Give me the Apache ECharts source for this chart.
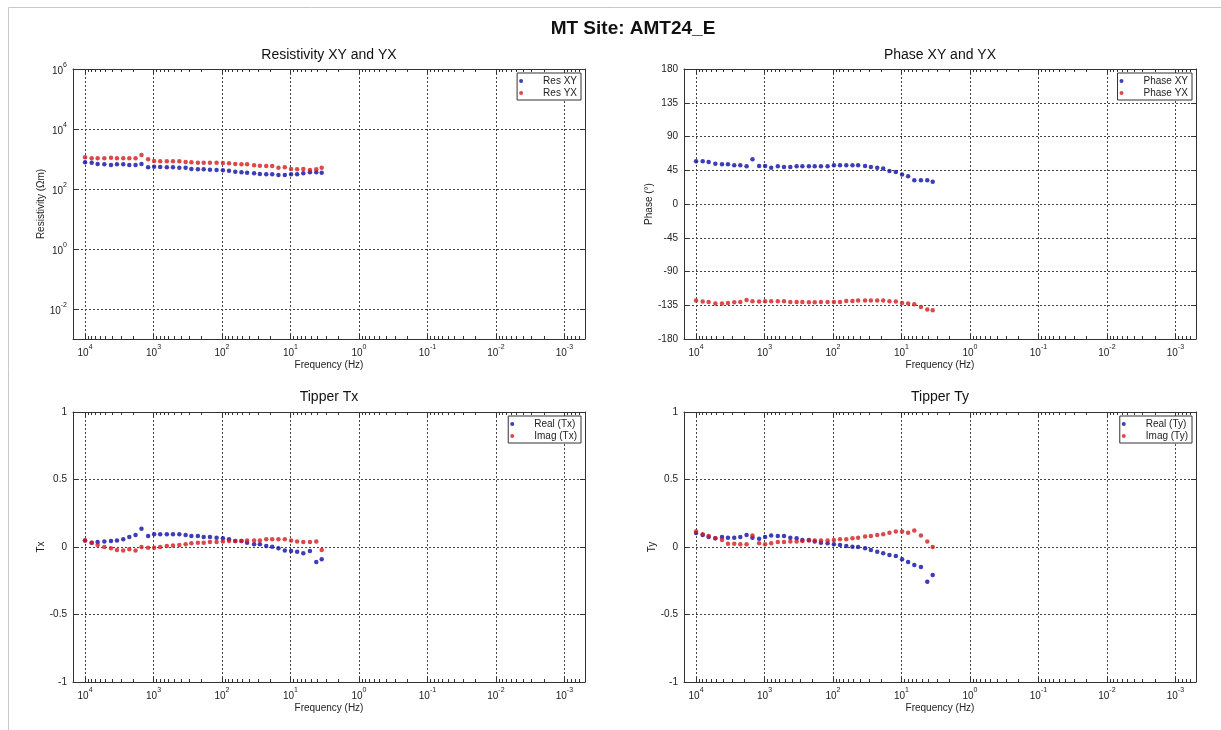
<!DOCTYPE html>
<html><head><meta charset="utf-8">
<script src="https://cdn.jsdelivr.net/npm/echarts@6/dist/echarts.min.js"></script>
<style>html,body{margin:0;padding:0;background:#fff}#c{width:1221px;height:730px}</style>
</head><body><div id="c"></div>
<script>
// ---------- data ----------
const freq = [10000, 8000, 6550, 5230, 4180, 3420, 2770, 2260, 1830, 1500, 1200, 980, 800, 640, 520, 420, 340, 280, 225, 185, 150, 120, 97, 79, 64, 52, 43, 34, 28, 22.6, 18.5, 15, 12.1, 9.8, 8, 6.5, 5.2, 4.2, 3.5];
const resXY = [774, 755, 681, 664, 631, 664, 664, 631, 631, 681, 527, 555, 541, 527, 527, 514, 514, 464, 453, 453, 441, 430, 419, 408, 378, 359, 350, 333, 316, 308, 308, 293, 293, 308, 308, 333, 359, 359, 350];
const resYX = [1136, 1052, 1052, 1052, 1108, 1052, 1052, 1052, 1052, 1359, 975, 858, 836, 836, 836, 836, 794, 774, 755, 755, 755, 755, 736, 717, 681, 664, 664, 615, 599, 584, 584, 514, 527, 464, 453, 464, 430, 453, 514];
const phaseXY = [56.9, 56.9, 56.0, 53.8, 52.9, 52.9, 51.6, 51.6, 50.3, 59.6, 50.7, 50.7, 48.5, 50.3, 49.4, 49.4, 50.3, 50.3, 50.3, 50.3, 50.3, 50.3, 51.6, 51.6, 51.6, 51.6, 51.6, 50.7, 49.4, 48.5, 47.2, 44.1, 42.8, 39.3, 37.1, 31.8, 31.8, 31.8, 29.6];
const phaseYX = [-128.8, -130.1, -130.5, -132.8, -132.8, -131.9, -131.0, -130.5, -127.9, -129.7, -130.1, -129.7, -129.7, -129.7, -129.7, -130.5, -130.5, -130.5, -131.0, -131.0, -130.5, -130.5, -130.5, -130.5, -129.2, -129.2, -128.8, -128.8, -128.8, -128.8, -128.8, -129.7, -130.1, -131.9, -132.8, -133.7, -137.2, -140.8, -141.7];
const txReal = [0.049, 0.032, 0.037, 0.040, 0.044, 0.049, 0.057, 0.074, 0.089, 0.136, 0.081, 0.094, 0.094, 0.094, 0.094, 0.094, 0.089, 0.081, 0.081, 0.074, 0.074, 0.069, 0.064, 0.057, 0.044, 0.044, 0.032, 0.020, 0.020, 0.007, 0.002, -0.010, -0.025, -0.030, -0.035, -0.047, -0.030, -0.111, -0.091];
const txImag = [0.049, 0.032, 0.015, 0, -0.010, -0.022, -0.025, -0.017, -0.025, 0, -0.005, -0.005, 0, 0.007, 0.012, 0.015, 0.020, 0.027, 0.032, 0.032, 0.037, 0.037, 0.040, 0.044, 0.044, 0.044, 0.049, 0.049, 0.049, 0.057, 0.057, 0.057, 0.057, 0.049, 0.040, 0.037, 0.037, 0.040, -0.022];
const tyReal = [0.104, 0.089, 0.074, 0.064, 0.074, 0.069, 0.069, 0.074, 0.089, 0.069, 0.062, 0.074, 0.086, 0.081, 0.081, 0.069, 0.064, 0.052, 0.052, 0.040, 0.032, 0.027, 0.020, 0.015, 0.007, 0.002, 0, -0.010, -0.022, -0.035, -0.047, -0.059, -0.067, -0.091, -0.111, -0.133, -0.148, -0.257, -0.207];
const tyImag = [0.114, 0.094, 0.081, 0.064, 0.052, 0.025, 0.025, 0.020, 0.020, 0.086, 0.027, 0.020, 0.027, 0.037, 0.037, 0.040, 0.040, 0.044, 0.049, 0.049, 0.049, 0.049, 0.052, 0.057, 0.057, 0.064, 0.069, 0.077, 0.081, 0.089, 0.094, 0.106, 0.114, 0.114, 0.106, 0.123, 0.086, 0.040, 0.000];

const xMajorTicks = [1e4, 1e3, 1e2, 1e1, 1, 1e-1, 1e-2, 1e-3];
const resTicks = [1e-2, 1, 1e2, 1e4, 1e6];
const X_MIN = 5e-4, X_MAX = 1.5e4;

// minor tick positions (2..9 x each decade) inside the axis range
const xMinorTicks = [];
for (let e = -4; e <= 4; e++) {
  for (let k = 2; k <= 9; k++) {
    const v = +(k * Math.pow(10, e)).toPrecision(3);
    if (v >= X_MIN && v <= X_MAX) xMinorTicks.push(v);
  }
}

// ---------- styling ----------
const FONT = 'Liberation Sans, Arial, sans-serif';
const TXT = '#222';
const AX = '#333';
const BLUE = '#0c0ca6';
const RED = '#d41c1c';

const powFmt = v => '{b|10}{s|' + Math.round(Math.log10(v)) + '}';
const powRich = {
  b: {fontSize: 10, color: TXT, fontFamily: FONT, lineHeight: 14, verticalAlign: 'bottom'},
  s: {fontSize: 7, color: TXT, fontFamily: FONT, lineHeight: 8, verticalAlign: 'top'}
};

const GW = 512, GH = 270;
const grids = [
  {left: 73, top: 69, width: GW, height: GH},
  {left: 684, top: 69, width: GW, height: GH},
  {left: 73, top: 412, width: GW, height: GH},
  {left: 684, top: 412, width: GW, height: GH}
];

function xAxesFor(g) {
  const base = {type: 'log', logBase: 10, gridIndex: g, min: X_MIN, max: X_MAX, inverse: true};
  const line = {show: true, onZero: false, lineStyle: {color: AX, width: 1}};
  const noLine = {show: false, onZero: false};
  const tick = (vals, len) => ({show: true, inside: true, length: len, customValues: vals, lineStyle: {color: AX}});
  return [
    Object.assign({}, base, {
      position: 'bottom',
      name: 'Frequency (Hz)', nameLocation: 'middle', nameGap: 21,
      nameTextStyle: {fontSize: 10, color: TXT, fontFamily: FONT},
      axisLine: line, axisTick: tick(xMajorTicks, 5),
      axisLabel: {show: true, customValues: xMajorTicks, formatter: powFmt, rich: powRich, margin: 5},
      splitLine: {show: true, lineStyle: {type: [2, 2], color: '#444', width: 1}}
    }),
    Object.assign({}, base, {
      position: 'bottom', axisLine: noLine, axisTick: tick(xMinorTicks, 3),
      axisLabel: {show: false}, splitLine: {show: false}
    }),
    Object.assign({}, base, {
      position: 'top', axisLine: line, axisTick: tick(xMajorTicks, 5),
      axisLabel: {show: false}, splitLine: {show: false}
    }),
    Object.assign({}, base, {
      position: 'top', axisLine: noLine, axisTick: tick(xMinorTicks, 3),
      axisLabel: {show: false}, splitLine: {show: false}
    })
  ];
}

function yAxesFor(g, kind, name, gap) {
  let base;
  if (kind === 'res') base = {type: 'log', logBase: 10, min: 1e-3, max: 1e6};
  else if (kind === 'phase') base = {type: 'value', min: -180, max: 180, interval: 45};
  else base = {type: 'value', min: -1, max: 1, interval: 0.5};
  base.gridIndex = g;
  const tickBase = {show: true, inside: true, length: 5, lineStyle: {color: AX}};
  if (kind === 'res') tickBase.customValues = resTicks;
  const label = {show: true, fontSize: 10, color: TXT, fontFamily: FONT, margin: 6};
  if (kind === 'res') { label.customValues = resTicks; label.formatter = powFmt; label.rich = powRich; }
  return [
    Object.assign({}, base, {
      position: 'left', name: name, nameLocation: 'middle', nameGap: gap,
      nameTextStyle: {fontSize: 10, color: TXT, fontFamily: FONT},
      axisLine: {show: true, onZero: false, lineStyle: {color: AX}},
      axisTick: tickBase, axisLabel: label,
      splitLine: {show: true, lineStyle: {type: [2, 2], color: '#444', width: 1}}
    }),
    Object.assign({}, base, {
      position: 'right',
      axisLine: {show: true, onZero: false, lineStyle: {color: AX}},
      axisTick: tickBase, axisLabel: {show: false}, splitLine: {show: false}
    })
  ];
}

const xAxis = [].concat(xAxesFor(0), xAxesFor(1), xAxesFor(2), xAxesFor(3));
const yAxis = [].concat(
  yAxesFor(0, 'res', 'Resistivity (\u03A9m)', 19),
  yAxesFor(1, 'phase', 'Phase (\u00B0)', 24),
  yAxesFor(2, 'tip', 'Tx', 20),
  yAxesFor(3, 'tip', 'Ty', 24)
);

function sc(name, g, vals, color) {
  return {
    name: name, type: 'scatter', xAxisIndex: g * 4, yAxisIndex: g * 2,
    data: freq.map((f, i) => [f, vals[i]]),
    symbol: 'circle', symbolSize: 4.5,
    itemStyle: {color: color},
    emphasis: {disabled: true}, silent: true
  };
}

const series = [
  sc('Res XY', 0, resXY, BLUE), sc('Res YX', 0, resYX, RED),
  sc('Phase XY', 1, phaseXY, BLUE), sc('Phase YX', 1, phaseYX, RED),
  sc('Real (Tx)', 2, txReal, BLUE), sc('Imag (Tx)', 2, txImag, RED),
  sc('Real (Ty)', 3, tyReal, BLUE), sc('Imag (Ty)', 3, tyImag, RED)
];

function legendFor(g, names) {
  const gr = grids[g];
  return {
    data: names, orient: 'vertical', selectedMode: false,
    right: 1221 - (gr.left + gr.width) + 4, top: gr.top + 4,
    icon: 'circle', itemWidth: 34, itemHeight: 4, itemGap: 2,
    padding: [3, 4, 2, 2],
    borderColor: AX, borderWidth: 1, backgroundColor: '#fff',
    textStyle: {fontSize: 10, color: TXT, fontFamily: FONT}
  };
}

const titleStyle = {fontSize: 14, fontWeight: 'normal', color: '#111', fontFamily: FONT};
const option = {
  animation: false,
  backgroundColor: '#fff',
  title: [
    {text: 'MT Site: AMT24_E', left: 633, top: 19, textAlign: 'center', padding: 0,
     textStyle: {fontSize: 19, fontWeight: 'bold', color: '#111', fontFamily: FONT}},
    {text: 'Resistivity XY and YX', left: grids[0].left + GW / 2, top: 48, textAlign: 'center', padding: 0, textStyle: titleStyle},
    {text: 'Phase XY and YX', left: grids[1].left + GW / 2, top: 48, textAlign: 'center', padding: 0, textStyle: titleStyle},
    {text: 'Tipper Tx', left: grids[2].left + GW / 2, top: 390, textAlign: 'center', padding: 0, textStyle: titleStyle},
    {text: 'Tipper Ty', left: grids[3].left + GW / 2, top: 390, textAlign: 'center', padding: 0, textStyle: titleStyle}
  ],
  legend: [
    legendFor(0, ['Res XY', 'Res YX']),
    legendFor(1, ['Phase XY', 'Phase YX']),
    legendFor(2, ['Real (Tx)', 'Imag (Tx)']),
    legendFor(3, ['Real (Ty)', 'Imag (Ty)'])
  ],
  grid: grids,
  xAxis: xAxis,
  yAxis: yAxis,
  series: series,
  graphic: [
    {type: 'line', silent: true, shape: {x1: 8.5, y1: 7.5, x2: 1221, y2: 7.5}, style: {stroke: '#c8c8c8', lineWidth: 1}},
    {type: 'line', silent: true, shape: {x1: 8.5, y1: 7.5, x2: 8.5, y2: 730}, style: {stroke: '#c8c8c8', lineWidth: 1}}
  ]
};

const chart = echarts.init(document.getElementById('c'), null, {renderer: 'canvas'});
chart.setOption(option);
</script>
</body></html>
